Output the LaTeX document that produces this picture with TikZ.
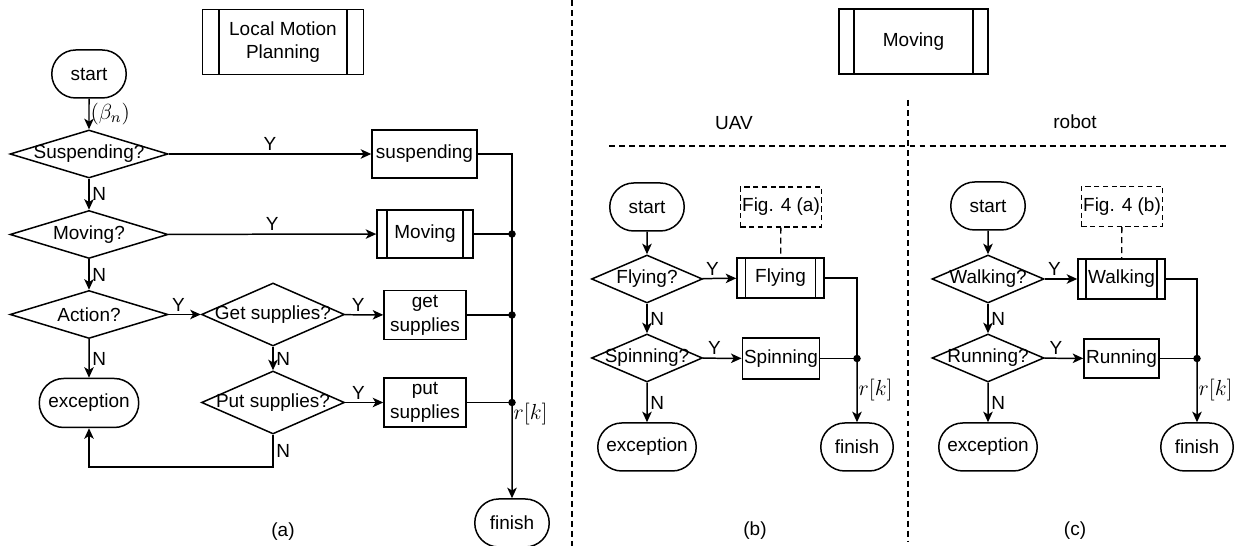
\RequirePackage{fix-cm}
\documentclass[tikz,border=0pt]{standalone}
\usepackage{fontspec}
\setmainfont{Liberation Sans}
\usetikzlibrary{arrows.meta,shapes.geometric,shapes.misc}

\begin{document}
\begin{tikzpicture}[
    font=\fontsize{10.8}{13.5}\selectfont,
    line width=0.85pt,
    term/.style={draw, rounded rectangle, minimum width=1.56cm, minimum height=0.96cm, inner sep=1pt},
    dec/.style={draw, diamond, inner sep=0pt, minimum width=3.16cm, minimum height=0.96cm},
    proc/.style={draw, minimum width=1.64cm, minimum height=0.98cm, inner sep=1pt, align=center},
    subproc/.style={proc, path picture={
        \draw ([xshift=#1]path picture bounding box.north west) -- ([xshift=#1]path picture bounding box.south west);
        \draw ([xshift=-#1]path picture bounding box.north east) -- ([xshift=-#1]path picture bounding box.south east);}},
    subproc/.default=0.18cm,
    figref/.style={draw, dash pattern=on 3pt off 2pt, line width=0.75pt, minimum width=1.6cm, minimum height=0.8cm, inner sep=1pt},
    dashln/.style={dash pattern=on 3.4pt off 2.3pt, line width=0.75pt},
    arr/.style={-{Stealth[length=6pt, width=5.4pt, inset=1.6pt]}},
    lbl/.style={inner sep=1.5pt},
    mlbl/.style={inner sep=0.5pt, font=\fontsize{12.4}{14}\selectfont}
]
\useasboundingbox (0,0) rectangle (24.82,10.92);

% separators
\draw[dashln] (11.44,10.92) -- (11.44,0);
\draw[dashln] (18.16,8.92) -- (18.16,0.08);
\draw[dashln] (12.18,8.0) -- (24.56,8.0);

% (a) local motion planning
\node[subproc=0.33cm, minimum width=3.22cm, minimum height=1.30cm] (lmp) at (5.66,10.08) {Local Motion\\Planning};
\node[term] (starta) at (1.78,9.44) {start};
\node[dec, label=center:{Suspending?}] (suspq) at (1.78,7.84) {};
\node[dec, label=center:{Moving?}]     (moveq) at (1.78,6.23) {};
\node[dec, label=center:{Action?}]     (actq)  at (1.78,4.63) {};
\node[dec, minimum width=2.86cm, minimum height=1.26cm, label=center:{Get supplies?}] (getq) at (5.46,4.63) {};
\node[dec, minimum width=2.86cm, minimum height=1.26cm, label=center:{Put supplies?}] (putq) at (5.46,2.87) {};
\node[term, minimum width=2.06cm, minimum height=0.98cm] (exca) at (1.78,2.86) {exception};
\node[proc, minimum width=2.10cm, minimum height=0.96cm] (suspbox) at (8.49,7.84) {suspending};
\node[subproc=0.2cm, minimum width=1.92cm, minimum height=0.96cm] (movebox) at (8.50,6.24) {Moving};
\node[proc] (getbox) at (8.50,4.62) {get\\supplies};
\node[proc] (putbox) at (8.50,2.87) {put\\supplies};
\node[term] (fina) at (10.24,0.46) {finish};
\node (capa) at (5.66,0.28) {(a)};

\coordinate (movedot) at (movebox -| fina);
\coordinate (getdot)  at (getbox -| fina);
\coordinate (putdot)  at (putbox -| fina);
\coordinate (back)    at (5.46,1.58);

\draw[arr] (starta) -- node[right, mlbl] {$(\beta_n)$} (suspq);
\draw[arr] (suspq) -- node[above, lbl] {Y} (suspbox);
\draw[arr] (suspq) -- node[right, lbl] {N} (moveq);
\draw[arr] (moveq) -- node[above, lbl] {Y} (movebox);
\draw[arr] (moveq) -- node[right, lbl] {N} (actq);
\draw[arr] (actq)  -- node[above, lbl, pos=0.3] {Y} (getq);
\draw[arr] (actq)  -- node[right, lbl] {N} (exca);
\draw[arr] (getq)  -- node[above, lbl, pos=0.35] {Y} (getbox);
\draw[arr] (getq)  -- node[right, lbl] {N} (putq);
\draw[arr] (putq)  -- node[above, lbl, pos=0.35] {Y} (putbox);
\draw[arr] (putq)  -- node[right, lbl] {N} (back) -| (exca);
\draw (suspbox) -| (putdot);
\draw (movebox) -- (movedot);
\draw (getbox)  -- (getdot);
\draw (putbox)  -- (putdot);
\draw[arr] (putdot) -- node[right, mlbl, pos=0.12] {$r[k]$} (fina);
\foreach \d in {movedot,getdot,putdot} \fill (\d) circle (0.075);

% moving: (b) UAV, (c) robot
\node[subproc=0.30cm, minimum width=2.98cm, minimum height=1.30cm] (movetop) at (18.27,10.09) {Moving};
\node (uav)   at (14.68,8.46) {UAV};
\node (robot) at (21.50,8.48) {robot};

\node[term] (startb) at (12.94,6.78) {start};
\node[figref] (figa) at (15.62,6.78) {Fig. 4 (a)};
\node[dec, minimum width=2.22cm, label=center:{Flying?}]   (flyq)  at (12.94,5.34) {};
\node[dec, minimum width=2.22cm, label=center:{Spinning?}] (spinq) at (12.94,3.76) {};
\node[subproc=0.17cm, minimum width=1.74cm, minimum height=0.80cm] (flybox) at (15.61,5.36) {Flying};
\node[proc, minimum width=1.52cm, minimum height=0.82cm] (spinbox) at (15.62,3.75) {Spinning};
\node[term, minimum width=2.04cm] (excb) at (12.94,1.98) {exception};
\node[term, minimum width=1.52cm] (finb) at (17.14,1.98) {finish};
\node (capb) at (15.10,0.30) {(b)};
\coordinate (spindot) at (spinbox -| finb);

\draw[arr] (startb) -- (flyq);
\draw[arr] (flyq)  -- node[above, lbl, pos=0.3] {Y} (flybox);
\draw[arr] (flyq)  -- node[right, lbl] {N} (spinq);
\draw[arr] (spinq) -- node[above, lbl, pos=0.3] {Y} (spinbox);
\draw[arr] (spinq) -- node[right, lbl] {N} (excb);
\draw[dashln] (figa) -- (flybox);
\draw (flybox) -| (spindot);
\draw (spinbox) -- (spindot);
\draw[arr] (spindot) -- node[right, mlbl] {$r[k]$} (finb);
\fill (spindot) circle (0.075);

\node[term] (startc) at (19.76,6.80) {start};
\node[figref] (figb) at (22.44,6.79) {Fig. 4 (b)};
\node[dec, minimum width=2.24cm, label=center:{Walking?}] (walkq) at (19.76,5.34) {};
\node[dec, minimum width=2.24cm, label=center:{Running?}] (runq)  at (19.76,3.76) {};
\node[subproc=0.16cm, minimum width=1.74cm, minimum height=0.80cm] (walkbox) at (22.43,5.34) {Walking};
\node[proc, minimum width=1.50cm, minimum height=0.78cm] (runbox) at (22.43,3.75) {Running};
\node[term, minimum width=2.04cm] (excc) at (19.76,1.98) {exception};
\node[term, minimum width=1.52cm] (finc) at (23.94,1.98) {finish};
\node (capc) at (21.50,0.30) {(c)};
\coordinate (rundot) at (runbox -| finc);

\draw[arr] (startc) -- (walkq);
\draw[arr] (walkq) -- node[above, lbl, pos=0.3] {Y} (walkbox);
\draw[arr] (walkq) -- node[right, lbl] {N} (runq);
\draw[arr] (runq)  -- node[above, lbl, pos=0.3] {Y} (runbox);
\draw[arr] (runq)  -- node[right, lbl] {N} (excc);
\draw[dashln] (figb) -- (walkbox);
\draw (walkbox) -| (rundot);
\draw (runbox) -- (rundot);
\draw[arr] (rundot) -- node[right, mlbl] {$r[k]$} (finc);
\fill (rundot) circle (0.075);
\end{tikzpicture}
\end{document}
